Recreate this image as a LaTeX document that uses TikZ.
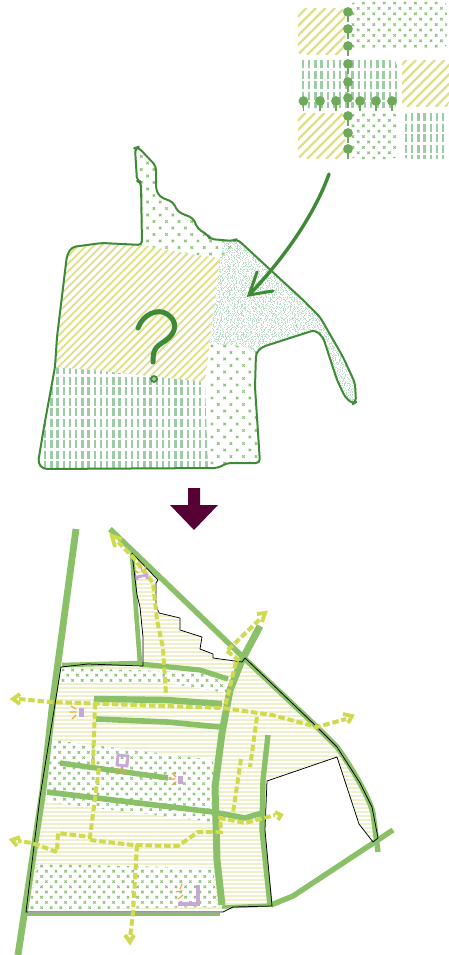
\documentclass[tikz,border=0pt]{standalone}
\definecolor{dgreen}{HTML}{3F8A37}
\definecolor{tree}{HTML}{6FA95A}
\definecolor{road}{HTML}{8AC067}
\definecolor{dash}{HTML}{CFDA4E}
\definecolor{diagc}{HTML}{DFE08C}
\definecolor{vertc}{HTML}{9CCCA6}
\definecolor{crossc}{HTML}{8FC27A}
\definecolor{stip}{HTML}{BBDCC9}
\definecolor{hline}{HTML}{EEF0C9}
\definecolor{lilac}{HTML}{C8A9D5}
\definecolor{orng}{HTML}{F2A53A}
\definecolor{plum}{HTML}{560035}
\tikzset{
  roadst/.style={draw=road,line join=round},
  dashst/.style={draw=dash,line width=4pt,dash pattern=on 6.5pt off 2.8pt},
  chevst/.style={draw=dash,line width=3.8pt,line join=miter},
  rayst/.style={draw=orng,line width=1.1pt,line cap=round},
  lilst/.style={draw=lilac,line width=2.8pt},
  bound/.style={draw=black,line width=0.75pt,line join=round}
}
% xmin xmax ymin ymax
\newcommand\hatchdiag[6]{\foreach \kk in {#1,#5,...,#2}{\draw[diagc,line width=#6pt] (\kk,#4) -- ({\kk+#4-#3},#3);}}
\newcommand\vertpat[5]{\foreach \kk in {#1,#5,...,#2}{\draw[vertc,line width=2.3pt,dash pattern=on 8pt off 2.6pt] (\kk,#3) -- (\kk,#4);}}
\newcommand\crosspat[6]{%
  \pgfmathtruncatemacro\nnr{(#4-#3)/#6}\pgfmathtruncatemacro\nnc{(#2-#1)/#5}%
  \foreach \rr in {0,...,\nnr}{\pgfmathsetmacro\ox{#1+mod(\rr,2)*#5/2}\pgfmathsetmacro\oy{#3+\rr*#6}%
    \foreach \cc in {0,...,\nnc}{\pgfmathsetmacro\px{\ox+\cc*#5}%
      \draw[crossc,line width=1pt] (\px-1.2,\oy-1.2) -- (\px+1.2,\oy+1.2) (\px-1.2,\oy+1.2) -- (\px+1.2,\oy-1.2);}
  }}
\newcommand\stipple[4]{% xmin xmax ymin ymax
  \pgfmathsetseed{42}%
  \foreach \yy in {#3,#3.7,...,#4}{%
    \pgfmathsetmacro\da{1+rnd*6}\pgfmathsetmacro\db{1+rnd*5}\pgfmathsetmacro\dc{1.5+rnd*7}\pgfmathsetmacro\dd{.8+rnd*5}\pgfmathsetmacro\de{1+rnd*7}\pgfmathsetmacro\st{#1-rnd*20}%
    \draw[stip,line width=.6pt,dash pattern=on .6pt off \da pt on .6pt off \db pt on .6pt off \dc pt on .6pt off \dd pt on .6pt off \de pt] (\st,\yy) -- (#2,\yy);}}
\newcommand\tree[2]{\fill[tree] (#1-0.9,#2) rectangle (#1+0.9,#2+10); \fill[tree] (#1,#2) circle (4.9);}
\newcommand\blobpath{(135,148) -- (138,147) -- (156,166) -- (156,190) -- (160,197) -- (173,202) -- (178,212) -- (193,218) -- (198,229) -- (208,235) -- (210,239) -- (233,241) -- (237,239) -- (303,300) -- (320,317) -- (343,357) -- (355,383) -- (356,402) -- (353,404) -- (345,397) -- (337,380) -- (323,337) -- (315,330) -- (262,347) -- (256,353) -- (255,387) -- (260,463) -- (227,463) -- (218,468) -- (43,469) -- (38,463) -- (44,427) -- (55,367) -- (57,337) -- (67,255) -- (72,247) -- (102,243) -- (142,245) -- (141,182) -- (137,181) -- cycle}
\newcommand\mappath{(132,553) -- (158,580) -- (156,583) -- (156,605) -- (159,613) -- (180,618) -- (180,630) -- (202,637) -- (200,649) -- (213,654) -- (213,658) -- (235,661) -- (242,662) -- (245,658) -- (317,727) -- (337,747) -- (360,783) -- (372,807) -- (378,838) -- (373,842) -- (359,824) -- (337,757) -- (267,781) -- (265,830) -- (272,906) -- (233,907) -- (223,912) -- (26,912) -- (40,797) -- (61,667) -- (88,664) -- (143,666) -- (143,637) -- (140,607) -- (137,595) -- cycle}
\begin{document}
\begin{tikzpicture}[x=1pt,y=-1pt]
\useasboundingbox (0,0) rectangle (449,955);
\fill[white] (0,0) rectangle (449,955);
%%% legend
\begin{scope}\clip[rounded corners=4pt] (298,8) -- (345,8) -- (345,55) -- (298,55) -- cycle; \hatchdiag{250}{350}{8}{55}{259.5}{2.4}\end{scope}
\begin{scope}\clip[rounded corners=4pt] (351,2) rectangle (447,48); \crosspat{353}{447}{3}{48}{10.4}{5.4}\end{scope}
\begin{scope}\clip[rounded corners=5pt] (298,60) rectangle (397,108); \vertpat{303}{397}{60}{108}{309.2}\end{scope}
\begin{scope}\clip[rounded corners=4pt] (402,60) rectangle (449,107); \hatchdiag{350}{450}{60}{107}{359.5}{2.4}\end{scope}
\begin{scope}\clip[rounded corners=4pt] (298,113) rectangle (345,159); \hatchdiag{250}{350}{113}{159}{259.5}{2.4}\end{scope}
\begin{scope}\clip[rounded corners=5pt] (351,113) rectangle (397,159); \crosspat{353}{397}{115}{159}{10.4}{5.4}\end{scope}
\begin{scope}\clip[rounded corners=5pt] (403,113) rectangle (449,159); \vertpat{406}{449}{113}{159}{412.2}\end{scope}
\foreach \yy in {12,29,46,64,82,98,116,133,149}{\tree{348}{\yy}}
\foreach \xx in {303.5,320,336,360,376,392}{\tree{\xx}{101}}
%%% site blob
\begin{scope}\clip[rounded corners=4pt] \blobpath;
  \begin{scope}\clip (130,140) -- (240,235) -- (226,259) -- (197,255) -- (142,246) -- cycle; \crosspat{135}{240}{150}{260}{12.6}{6.5}\end{scope}
  \begin{scope}\clip (60,240) -- (142,245) -- (197,255) -- (220,258) -- (205,382) -- (92,370) -- (50,367) -- cycle; \hatchdiag{-100}{230}{240}{385}{-92.2}{1.8}\end{scope}
  \begin{scope}\clip (50,367) -- (92,370) -- (205,382) -- (208,470) -- (30,472) -- cycle; \vertpat{39}{208}{366}{470}{45.2}\end{scope}
  \begin{scope}\clip (224,240) -- (240,235) -- (360,300) -- (360,410) -- (320,410) -- (250,348) -- (210,343) -- (220,258) -- cycle;
    \stipple{208}{358}{238}{408}
  \end{scope}
  \begin{scope}\clip (210,343) -- (262,348) -- (262,466) -- (208,470) -- (205,382) -- cycle; \crosspat{212}{262}{346}{468}{12.6}{6.5}\end{scope}
\end{scope}
\draw[dgreen,line width=2pt,rounded corners=4pt,line join=round] \blobpath;
% question mark
\draw[dgreen,line width=5pt,line cap=round] (138,328) .. controls (143,314) and (158,308) .. (167,314) .. controls (178,321) and (177,333) .. (165,341) .. controls (155,347) and (153,350) .. (153,362);
\draw[dgreen,line width=2pt] (154,379) circle (2.8);
\fill[dgreen!70!white] (154,379) circle (1.2);
% arrow
\draw[dgreen,line width=3.4pt,line cap=round] (329,174) .. controls (317,208) and (290,252) .. (249,295);
\draw[dgreen,line width=3pt,line cap=round,line join=miter] (257,272) -- (249,295) -- (273,291);
% block arrow
\fill[plum] (188,488) -- (200,488) -- (200,505) -- (218,505) -- (194,530) -- (170,505) -- (188,505) -- cycle;
%%% map
\begin{scope}\clip \mappath;
  \foreach \yy in {556,560,...,912}{\draw[hline,line width=1.2pt] (20,\yy) -- (385,\yy);}
\end{scope}
% cross patches
\begin{scope}\clip (62,668) -- (200,672) -- (227,683) -- (227,693) -- (167,683) -- (60,682) -- cycle; \fill[white] (50,660) rectangle (230,700); \crosspat{63}{230}{670}{695}{9.6}{5.2}\end{scope}
\begin{scope}\clip (53,740) -- (213,760) -- (213,822) -- (170,817) -- (47,802) -- (45,795) -- (48,770) -- cycle; \fill[white] (40,735) rectangle (220,825); \crosspat{50}{215}{742}{822}{9.6}{5.2}\end{scope}
\begin{scope}\clip (38,864) -- (213,868) -- (217,907) -- (28,910) -- cycle; \fill[white] (20,860) rectangle (220,912); \crosspat{32}{217}{866}{910}{9.6}{5.2}\end{scope}
% roads
\draw[roadst,line width=6.8pt] (76,529) -- (53,700) -- (43,790) -- (18,955);
\draw[roadst,line width=5.4pt] (110,529) -- (245,659) -- (317,727) -- (337,747) .. controls (355,772) and (370,800) .. (373,813) -- (378,852);
\draw[roadst,line width=4.6pt] (132,553) -- (136,610) -- (140,663) -- (62,665);
\draw[roadst,line width=5.2pt] (140,664) -- (200,670) -- (228,679);
\draw[roadst,line width=7pt] (260,626) -- (242,660) -- (230,690) -- (222,733) -- (215,787) -- (217,860) -- (222,905);
\draw[roadst,line width=5.4pt] (268,735) -- (263,780) -- (262,830) -- (270,905);
\draw[roadst,line width=3.4pt] (222,907) -- (271,905);
\draw[roadst,line width=5.4pt] (271,905) -- (293,896) -- (393,830);
\draw[roadst,line width=3pt] (27,914) -- (220,914);
\draw[roadst,line width=6.4pt] (94,699) -- (167,700) -- (222,704);
\draw[roadst,line width=5.6pt] (96,719) -- (167,722) -- (220,727);
\draw[roadst,line width=5.4pt] (60,763) -- (168,778);
\draw[roadst,line width=5.6pt] (47,792) -- (213,812) -- (245,818) -- (262,813);
% boundary
\draw[bound] \mappath;
% dashed paths
\draw[dashst] (118,542) -- (133,557) -- (153,583) -- (157,620) -- (163,648) -- (166,695);
\draw[dashst] (19,699) -- (50,702) -- (223,708) -- (272,715) -- (317,727) -- (346,719);
\draw[dashst] (227,651) -- (240,661);
\draw[dashst] (228,650) -- (261,618);
\draw[dashst] (236,662) -- (225,707);
\draw[dashst] (257,717) -- (250,767);
\draw[dashst] (241,759) -- (233,813);
\draw[dashst] (95,703) -- (93,767);
\draw[dashst] (99,768) -- (90,837) -- (58,833) -- (57,852) -- (32,843) -- (18,841);
\draw[dashst] (90,840) -- (133,845) -- (178,846) -- (198,832) -- (221,832) -- (220,818) -- (245,823) -- (275,815);
\draw[dashst] (137,845) -- (133,913) -- (130,938);
% chevrons
\draw[chevst] (115,547) -- (112,536) -- (122,539);
\draw[chevst] (20,694) -- (13,699) -- (20,704);
\draw[chevst] (343,714) -- (352,716) -- (348,723);
\draw[chevst] (257,614) -- (265,613) -- (262,622);
\draw[chevst] (275,812) -- (281,815) -- (278,820);
\draw[chevst] (20,837) -- (12,840) -- (17,846);
\draw[chevst] (125,935) -- (130,942) -- (134,935);
% lilac
\draw[lilst] (137,580) -- (137,577) -- (147,575) -- (147,579);
\fill[lilac] (79,708) rectangle (84,717);
\draw[lilst] (118,755) -- (128,756) -- (127,766) -- (117,765) -- cycle;
\fill[lilac] (178,776) rectangle (183,784);
\draw[lilst,line width=4.2pt] (198,885) -- (198,904) -- (178,904);
% rays
\draw[rayst] (135,570) -- (138,573) (141,567) -- (142,571) (145,566) -- (146,570);
\draw[rayst] (70,712) -- (76,712) (71,706) -- (76,709) (72,719) -- (76,715);
\draw[rayst] (116,771) -- (118,768) (121,773) -- (121,769) (126,773) -- (123,769);
\draw[rayst] (172,773) -- (176,777) (169,779) -- (175,779) (172,785) -- (176,782);
\draw[rayst] (182,884) -- (180,889) (176,892) -- (182,891) (178,899) -- (183,895);
\end{tikzpicture}
\end{document}
